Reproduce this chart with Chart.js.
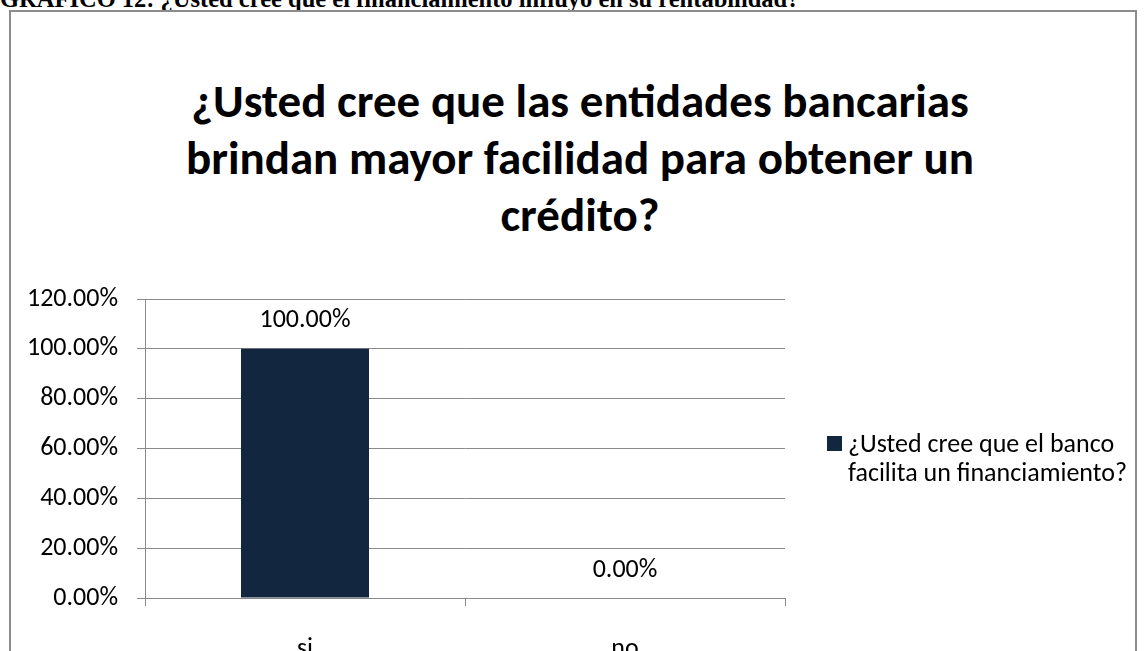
<!DOCTYPE html>
<html>
<head>
<meta charset="utf-8">
<script src="https://cdn.jsdelivr.net/npm/chart.js@4.4.1/dist/chart.umd.min.js"></script>
<style>
  html, body { margin: 0; padding: 0; background: #fff; }
  body { width: 1148px; height: 651px; position: relative; overflow: hidden; }
  #header { position: absolute; left: 0; top: -15px; font: bold 24.5px "Liberation Serif", "Times New Roman", serif; color: #000; white-space: nowrap; }
  #box { position: absolute; left: 9px; top: 10px; width: 1128px; height: 660px; border: 2px solid #8c8c8c; box-sizing: border-box; }
  #title { position: absolute; left: 0; width: 1160px; top: 73px; text-align: center; font: bold 47px Carlito, Lato, sans-serif; line-height: 57px; color: #000; }
  #legend { position: absolute; left: 827px; top: 429px; font: 26px Carlito, Lato, sans-serif; line-height: 29px; color: #000; }
  #legend .sw { position: absolute; left: 0; top: 7px; width: 15px; height: 15px; }
  #legend .tx { margin-left: 21px; width: 310px; }
  #wrap { position: absolute; left: 0; top: 0; width: 1148px; height: 651px; }
</style>
</head>
<body>
<div id="header">GRÁFICO 12: ¿Usted cree que el financiamiento influyó en su rentabilidad?</div>
<div id="box"></div>
<div id="title">¿Usted cree que las entidades bancarias<br>brindan mayor facilidad para obtener un<br>crédito?</div>
<div id="wrap"><canvas id="c" width="1148" height="651"></canvas></div>
<div id="legend"><div class="sw"></div><div class="tx"></div></div>
<script>
const categories = ["si", "no"];
const seriesLabel = "¿Usted cree que el banco facilita un financiamiento?";
const legendLines = ["¿Usted cree que el banco", "facilita un financiamiento?"];
const seriesValues = [1.0, 0.0];
const yTicks = [0, 0.2, 0.4, 0.6, 0.8, 1.0, 1.2];
const barColor = "#12263f";
const gridColor = "#8a8a8a";
const fontFam = "Carlito, Lato, sans-serif";

document.querySelector('#legend .sw').style.background = barColor;
document.querySelector('#legend .tx').innerHTML = legendLines.join('<br>');

const pct = v => (v * 100).toFixed(2) + '%';

const valueLabels = {
  id: 'valueLabels',
  afterDatasetsDraw(chart) {
    const ctx = chart.ctx;
    const meta = chart.getDatasetMeta(0);
    ctx.save();
    ctx.font = '26px ' + fontFam;
    ctx.fillStyle = '#000';
    ctx.textAlign = 'center';
    ctx.textBaseline = 'middle';
    meta.data.forEach((bar, i) => {
      ctx.fillText(pct(chart.data.datasets[0].data[i]), bar.x, bar.y - 28);
    });
    ctx.restore();
  }
};

new Chart(document.getElementById('c'), {
  type: 'bar',
  data: {
    labels: categories,
    datasets: [{
      label: seriesLabel,
      data: seriesValues,
      backgroundColor: barColor,
      borderWidth: 0,
      categoryPercentage: 1.0,
      barPercentage: 0.4
    }]
  },
  options: {
    responsive: false,
    animation: false,
    events: [],
    layout: { padding: { left: 0, right: 363, top: 299, bottom: 0 } },
    plugins: { legend: { display: false }, title: { display: false }, tooltip: { enabled: false } },
    scales: {
      y: {
        min: 0, max: 1.2,
        afterFit(s) { s.width = 145; },
        afterBuildTicks(s) { s.ticks = yTicks.map(v => ({ value: v })); },
        ticks: { callback: v => pct(v), font: { family: fontFam, size: 26 }, color: '#000', padding: 19 },
        grid: { color: gridColor, lineWidth: 1, tickLength: 8, drawTicks: true },
        border: { color: gridColor, width: 1 }
      },
      x: {
        afterFit(s) { s.height = 53; },
        ticks: { font: { family: fontFam, size: 26 }, color: '#000', padding: 28 },
        grid: { offset: true, drawOnChartArea: false, drawTicks: true, tickLength: 8, color: gridColor, lineWidth: 1 },
        border: { color: gridColor, width: 1 }
      }
    }
  },
  plugins: [valueLabels]
});
</script>
</body>
</html>
